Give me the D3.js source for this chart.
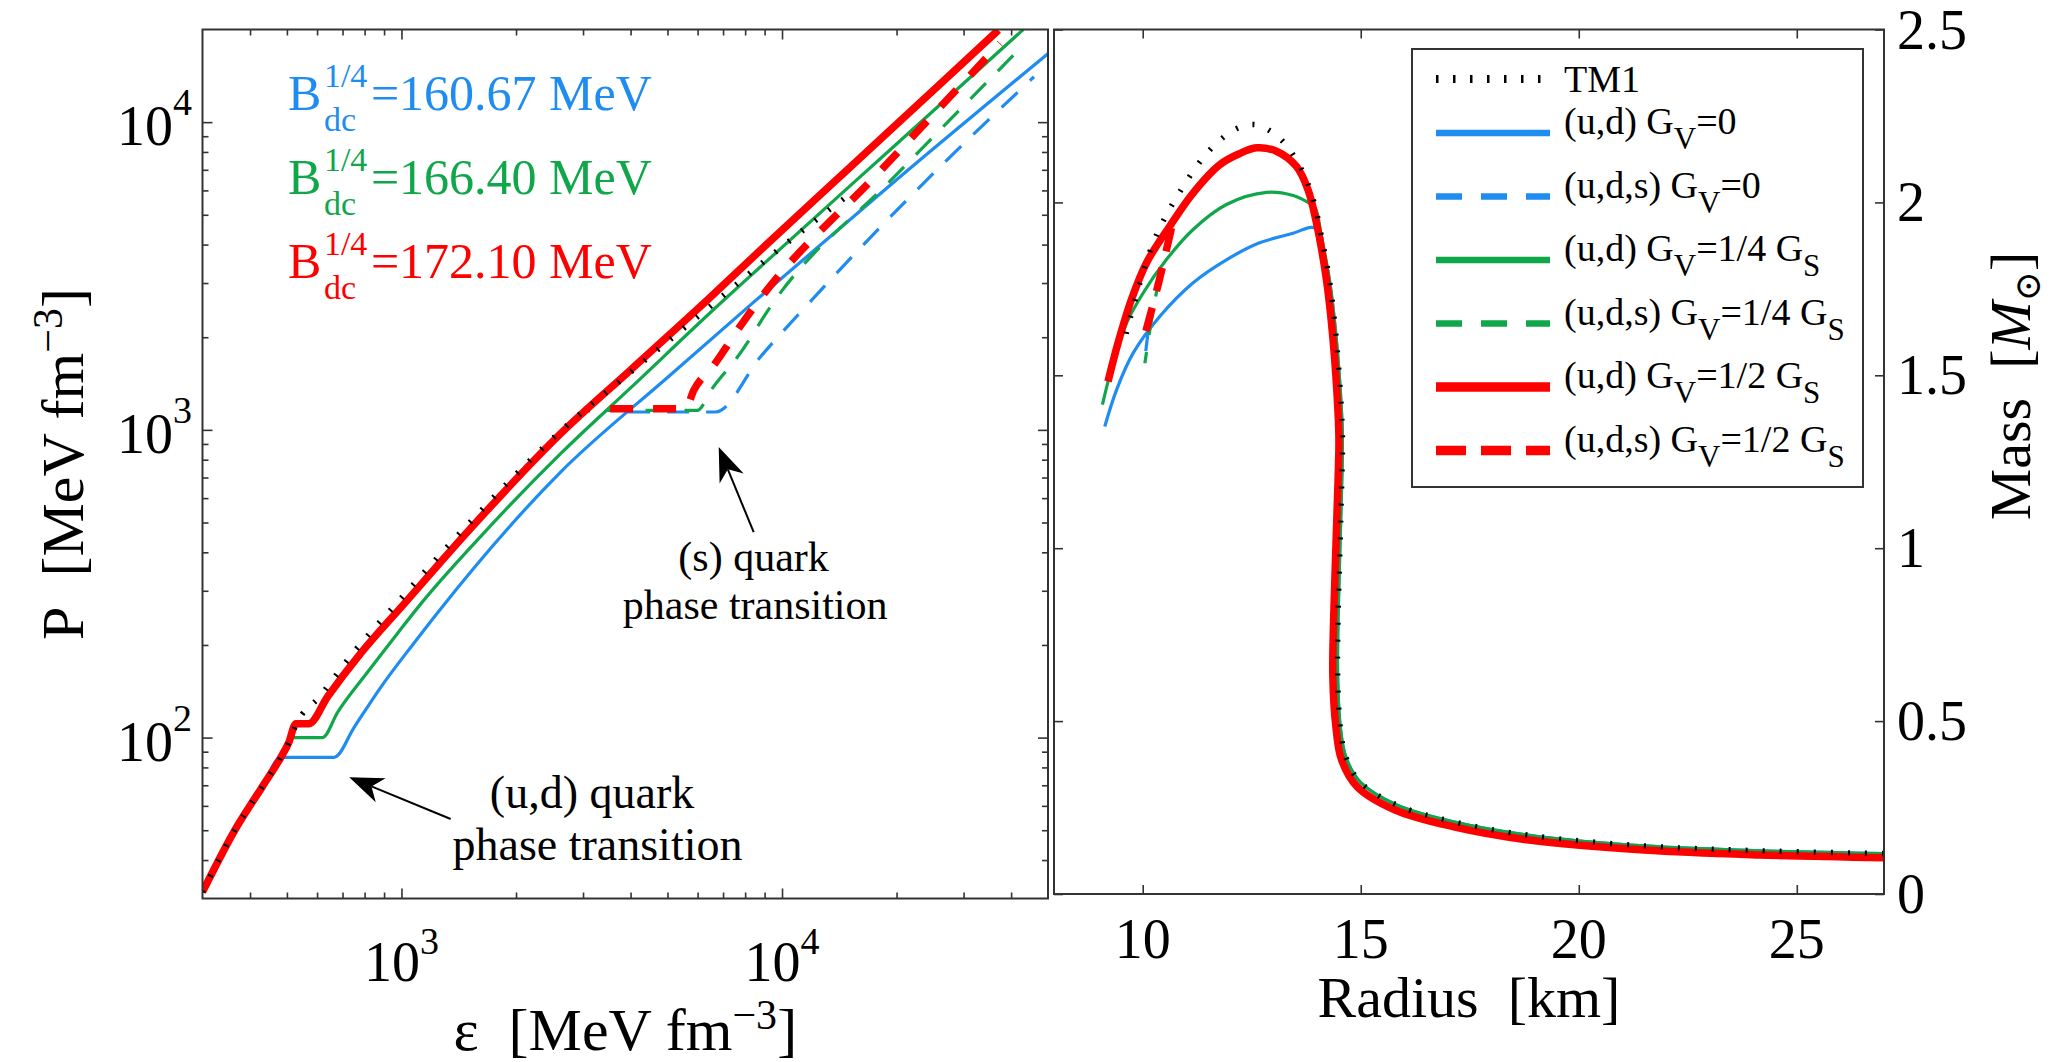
<!DOCTYPE html>
<html><head><meta charset="utf-8">
<script src="https://cdn.jsdelivr.net/npm/d3@7"></script>
<style>
body{margin:0;background:#fff}
svg{display:block}
svg text{font-family:"Liberation Serif","DejaVu Serif","Noto Serif","Times New Roman",serif;fill:#000}
</style>
</head><body>
<svg id="c" width="2060" height="1062" font-family="'Liberation Serif','DejaVu Serif','Noto Serif','Times New Roman',serif"></svg>
<script>
// ---------------- DATA ----------------
// Left panel: EOS, P vs energy density  [eps, P]
const eosTM1 = [[300,31.5],[364,49.8],[430,69],[482,86.3],[505,96],[528,110],[610,136],[745,188],[968,272],[1500,495],[2619,990],[4000,1540],[6614,2573],[9041,3556],[12000,4700],[14950,5788]];
const eosBlueUD = [[300,31.5],[364,49.8],[430,69],[482,86.3],[666,86.3],[751,108],[882,145.7],[1079,203],[1255,258],[2619,729],[5000,1480],[8425,2600],[20000,6500],[50000,16700]];
const eosBlueUDS = [[3941,1143],[6683,1143],[8770,1725],[11514,2508],[22290,5916],[45950,14040]];
const eosGreenUD = [[300,31.5],[364,49.8],[430,69],[482,86.3],[505,96],[517,100],[620,100],[680,121],[814,163],[976,218],[1124,272],[1600,445],[2619,837],[4000,1369],[7025,2637],[8771,3384],[20000,8494],[43050,20000]];
const eosGreenUDS = [[3459,1157],[5983,1157],[6550,1361],[7691,1746],[9500,2600],[19630,6600],[43510,18030]];
const eosRedUD = [[300,31.5],[364,49.8],[430,69],[482,86.3],[505,96],[528,111],[571,111],[640,136],[782,188],[1016,272],[1500,470],[2619,972],[4000,1566],[6355,2637],[8771,3834],[15000,7085],[25000,12700],[37030,19910]];
const eosRedUDS = [[3093,1172],[5577,1172],[5861,1344],[6614,1621],[7852,2215],[8771,2670],[18120,6940],[37410,18030]];

// Right panel: mass-radius  [R km, M]
const mrHadronTail = [[14.28,1.777],[14.44,1.603],[14.56,1.391],[14.58,1.31],[14.54,1.08],[14.48,0.8],[14.47,0.63],[14.53,0.484],[14.66,0.395],[15.0,0.322],[15.85,0.256],[17.15,0.208],[18.9,0.169],[21.5,0.139],[24.13,0.125],[27,0.117]];
const mrTM1Top = [[9.62,1.62],[9.66,1.641],[10.24,1.883],[10.81,2.022],[11.54,2.152],[12.15,2.213],[12.57,2.225],[12.93,2.206],[13.23,2.174],[13.49,2.129],[13.75,2.066],[13.95,1.99],[14.1,1.9]];
const mrBlueQuark = [[9.13,1.352],[9.40,1.458],[9.78,1.564],[10.39,1.670],[11.15,1.767],[11.92,1.834],[12.68,1.883],[13.45,1.911],[13.87,1.928],[14.05,1.92],[14.15,1.86]];
const mrGreenQuark = [[9.076,1.415],[9.32,1.536],[9.63,1.651],[10.01,1.738],[10.54,1.834],[11.15,1.921],[11.92,1.994],[12.84,2.029],[13.45,2.02],[13.75,2.003],[13.95,1.985],[14.1,1.9]];
const mrRedUD = [[9.204,1.482],[9.433,1.593],[9.741,1.719],[10.085,1.825],[10.62,1.931],[11.154,2.027],[11.766,2.109],[12.2,2.14],[12.608,2.158],[13.066,2.148],[13.525,2.104],[13.79,2.037],[13.984,1.941],[14.213,1.777],[14.365,1.603],[14.48,1.391],[14.5,1.31],[14.45,1.08],[14.38,0.8],[14.36,0.63],[14.43,0.484],[14.56,0.388],[14.92,0.31],[15.79,0.243],[17.11,0.195],[18.86,0.156],[21.5,0.127],[24.13,0.113],[27,0.105]];
const mrBlueUDS = [[10.12,1.622],[10.07,1.57]];
const mrGreenUDS = [[10.39,1.79],[10.2,1.66],[10.05,1.535]];
const mrRedUDS = [[10.66,1.926],[10.35,1.76],[10.01,1.598]];

// ticks / labels
const xTicksLeftMajor = [1000,10000];
const xTicksLeftMinor = [400,500,600,700,800,900,2000,3000,4000,5000,6000,7000,8000,9000,20000,30000,40000];
const yTicksLeftMajor = [100,1000,10000];
const yTicksLeftMinor = [40,50,60,70,80,90,200,300,400,500,600,700,800,900,2000,3000,4000,5000,6000,7000,8000,9000];
const xTicksRight = [10,15,20,25];
const yTicksRight = [0,0.5,1,1.5,2,2.5];
const yTickRightLabels = ["0","0.5","1","1.5","2","2.5"];
const bagValues = ["160.67","166.40","172.10"];
const legendLabels = [
  [["TM1",""]],
  [["(u,d) G",""],["V","sub"],["=0",""]],
  [["(u,d,s) G",""],["V","sub"],["=0",""]],
  [["(u,d) G",""],["V","sub"],["=1/4 G",""],["S","sub"]],
  [["(u,d,s) G",""],["V","sub"],["=1/4 G",""],["S","sub"]],
  [["(u,d) G",""],["V","sub"],["=1/2 G",""],["S","sub"]],
  [["(u,d,s) G",""],["V","sub"],["=1/2 G",""],["S","sub"]]
];

// ---------------- LAYOUT / STYLE ----------------
const FONT="'Liberation Serif','DejaVu Serif','Noto Serif','Times New Roman',serif";
const BLUE="#1E8CF0", GREEN="#10A64A", RED="#FF0000", AX="#333";
const svg=d3.select("#c");
svg.append("rect").attr("width",2060).attr("height",1062).attr("fill","#fff");
const L={x0:202.5,x1:1048,y0:29.5,y1:898.5};
const R={x0:1054,x1:1884,y0:29.5,y1:894};
const xL=d3.scaleLog().domain([300,50000]).range([L.x0,L.x1]);
const yL=d3.scaleLog().domain([30,20000]).range([L.y1,L.y0]);
const xR=d3.scaleLinear().domain([8,27]).range([1055.5,R.x1]);
const yR=d3.scaleLinear().domain([0,2.5]).range([R.y1,R.y0]);
function T(sel){return sel.append("text").attr("font-family",FONT).style("font-family",FONT);}

const defs=svg.append("defs");
defs.append("clipPath").attr("id","clipL").append("rect").attr("x",L.x0).attr("y",L.y0).attr("width",L.x1-L.x0).attr("height",L.y1-L.y0);
defs.append("clipPath").attr("id","clipR").append("rect").attr("x",R.x0).attr("y",R.y0).attr("width",R.x1-R.x0).attr("height",R.y1-R.y0);

const styleBlue={color:BLUE,width:3.2,dash:null}, styleBlueD={color:BLUE,width:3.2,dash:"22 17"};
const styleGreen={color:GREEN,width:3.2,dash:null}, styleGreenD={color:GREEN,width:3.2,dash:"22 17"};
const styleRed={color:RED,width:7.5,dash:null}, styleRedD={color:RED,width:7.5,dash:"23 20",offset:21};
const styleTM1={color:"#000",width:5.5,dash:"2 15"};

// ---------------- LEFT PANEL ----------------
const gL=svg.append("g").attr("clip-path","url(#clipL)");
const lineL=d3.line().x(d=>xL(d[0])).y(d=>yL(d[1])).curve(d3.curveMonotoneX);
const eosSeries=[[eosBlueUD,styleBlue],[eosBlueUDS,styleBlueD],[eosGreenUD,styleGreen],[eosGreenUDS,styleGreenD],[eosRedUD,styleRed],[eosRedUDS,styleRedD],[eosTM1,styleTM1]];
eosSeries.forEach(([d,s])=>{
  gL.append("path").attr("d",lineL(d)).attr("fill","none").attr("stroke",s.color)
    .attr("stroke-width",s.width).attr("stroke-dasharray",s.dash).attr("stroke-dashoffset",s.offset||0).attr("stroke-linejoin","round");
});

function tickAxis(axis,tx,ty,len){
  const g=svg.append("g").attr("transform",`translate(${tx},${ty})`).call(axis.tickSize(len).tickSizeOuter(0).tickFormat(""));
  g.select(".domain").remove();
  g.selectAll(".tick line").attr("stroke",AX).attr("stroke-width",1.6);
  g.selectAll(".tick text").remove();
  return g;
}
tickAxis(d3.axisBottom(xL).tickValues(xTicksLeftMinor),0,L.y1,-6);
tickAxis(d3.axisBottom(xL).tickValues(xTicksLeftMajor),0,L.y1,-10);
tickAxis(d3.axisTop(xL).tickValues(xTicksLeftMinor),0,L.y0,-6);
tickAxis(d3.axisTop(xL).tickValues(xTicksLeftMajor),0,L.y0,-10);
tickAxis(d3.axisLeft(yL).tickValues(yTicksLeftMinor),L.x0,0,-6);
tickAxis(d3.axisLeft(yL).tickValues(yTicksLeftMajor),L.x0,0,-10);
tickAxis(d3.axisRight(yL).tickValues(yTicksLeftMinor),L.x1,0,-6);
tickAxis(d3.axisRight(yL).tickValues(yTicksLeftMajor),L.x1,0,-10);
svg.append("rect").attr("x",L.x0).attr("y",L.y0).attr("width",L.x1-L.x0).attr("height",L.y1-L.y0)
  .attr("fill","none").attr("stroke",AX).attr("stroke-width",2);

// tick labels with exponent
xTicksLeftMajor.forEach(v=>{
  const t=T(svg).attr("x",xL(v)).attr("y",981).attr("text-anchor","middle").attr("font-size",56);
  t.append("tspan").text("10");
  t.append("tspan").attr("font-size",38).attr("dy",-27).text(Math.round(Math.log10(v)));
});
yTicksLeftMajor.forEach(v=>{
  const t=T(svg).attr("x",192).attr("y",yL(v)+23).attr("text-anchor","end").attr("font-size",56);
  t.append("tspan").text("10");
  t.append("tspan").attr("font-size",38).attr("dy",-30).text(Math.round(Math.log10(v)));
});
// axis titles
{
  const t=T(svg).attr("x",(L.x0+L.x1)/2).attr("y",1050).attr("text-anchor","middle").attr("font-size",60);
  t.append("tspan").text("\u03B5\u00A0\u00A0[MeV fm");
  t.append("tspan").attr("font-size",42).attr("dy",-21).text("\u22123");
  t.append("tspan").attr("dy",21).text("]");
}
{
  const t=T(svg).attr("transform",`translate(83,${(L.y0+L.y1)/2}) rotate(-90)`).attr("text-anchor","middle").attr("font-size",60);
  t.append("tspan").text("P\u00A0\u00A0[MeV fm");
  t.append("tspan").attr("font-size",42).attr("dy",-21).text("\u22123");
  t.append("tspan").attr("dy",21).text("]");
}
// bag constant annotations
const bagColors=[BLUE,GREEN,RED];
const bagAnchorEps=503, bagAnchorP=[10950,5841,3115];
bagValues.forEach((v,i)=>{
  const x=xL(bagAnchorEps), y=yL(bagAnchorP[i]);
  const t=T(svg).attr("font-size",50).style("fill",bagColors[i]);
  t.append("tspan").attr("x",x).attr("y",y).text("B");
  t.append("tspan").attr("x",x+36).attr("y",y-23).attr("font-size",34).text("1/4");
  t.append("tspan").attr("x",x+36).attr("y",y+21).attr("font-size",34).text("dc");
  t.append("tspan").attr("x",x+83).attr("y",y).text("="+v+" MeV");
});
// arrows + text
const arrows=[{from:[8425,465],to:[6818,879]},{from:[1347,54.4],to:[729,74.3]}];
arrows.forEach(a=>{
  const x1=xL(a.from[0]),y1=yL(a.from[1]),x2=xL(a.to[0]),y2=yL(a.to[1]);
  const dx=x2-x1,dy=y2-y1,len=Math.hypot(dx,dy),ux=dx/len,uy=dy/len,px=-uy,py=ux;
  const hl=34,hw=13,notch=24;
  svg.append("line").attr("x1",x1).attr("y1",y1).attr("x2",x2-ux*notch).attr("y2",y2-uy*notch).attr("stroke","#000").attr("stroke-width",2);
  const pts=[[x2,y2],[x2-ux*hl+px*hw,y2-uy*hl+py*hw],[x2-ux*notch,y2-uy*notch],[x2-ux*hl-px*hw,y2-uy*hl-py*hw]];
  svg.append("polygon").attr("points",pts.map(p=>p.join(",")).join(" ")).attr("fill","#000");
});
const annoTexts=[{t:"(s) quark",at:[8420,349],size:42},{t:"phase transition",at:[8500,243],size:42},
                 {t:"(u,d) quark",at:[3168,59.2],size:46},{t:"phase transition",at:[3274,40.1],size:46}];
annoTexts.forEach(a=>{
  T(svg).attr("x",xL(a.at[0])).attr("y",yL(a.at[1])).attr("text-anchor","middle").attr("font-size",a.size).text(a.t);
});

// ---------------- RIGHT PANEL ----------------
const gR=svg.append("g").attr("clip-path","url(#clipR)");
const lineR=d3.line().x(d=>xR(d[0])).y(d=>yR(d[1])).curve(d3.curveCatmullRom.alpha(0.5));
const mrSeries=[[mrBlueQuark.concat(mrHadronTail),styleBlue],[mrBlueUDS,styleBlueD],
  [mrGreenQuark.concat(mrHadronTail),styleGreen],[mrGreenUDS,styleGreenD],
  [mrRedUD,styleRed],[mrRedUDS,{color:RED,width:7.5,dash:"24 17"}],[mrTM1Top.concat(mrHadronTail),styleTM1]];
mrSeries.forEach(([d,s])=>{
  gR.append("path").attr("d",lineR(d)).attr("fill","none").attr("stroke",s.color)
    .attr("stroke-width",s.width).attr("stroke-dasharray",s.dash).attr("stroke-linejoin","round");
});
tickAxis(d3.axisBottom(xR).tickValues(xTicksRight),0,R.y1,-9);
tickAxis(d3.axisTop(xR).tickValues(xTicksRight),0,R.y0,-9);
tickAxis(d3.axisLeft(yR).tickValues(yTicksRight),R.x0,0,-9);
tickAxis(d3.axisRight(yR).tickValues(yTicksRight),R.x1,0,-9);
svg.append("rect").attr("x",R.x0).attr("y",R.y0).attr("width",R.x1-R.x0).attr("height",R.y1-R.y0)
  .attr("fill","none").attr("stroke",AX).attr("stroke-width",2);
xTicksRight.forEach(v=>{
  T(svg).attr("x",xR(v)).attr("y",958).attr("text-anchor","middle").attr("font-size",56).text(v);
});
yTicksRight.forEach((v,i)=>{
  T(svg).attr("x",1897).attr("y",yR(v)+19).attr("font-size",56).text(yTickRightLabels[i]);
});
T(svg).attr("x",(R.x0+R.x1)/2).attr("y",1017).attr("text-anchor","middle").attr("font-size",58).text("Radius\u00A0\u00A0[km]");
{
  const t=T(svg).attr("transform","translate(2030,386) rotate(-90)").attr("text-anchor","middle").attr("font-size",58);
  t.append("tspan").text("Mass\u00A0\u00A0[");
  t.append("tspan").attr("font-style","italic").text("M");
  t.append("tspan").attr("font-size",36).attr("dy",10).text("\u2299");
  t.append("tspan").attr("dy",-10).text("]");
}

// ---------------- LEGEND ----------------
const lg=svg.append("g");
lg.append("rect").attr("x",1412).attr("y",49).attr("width",451).attr("height",438).attr("fill","#fff").attr("stroke",AX).attr("stroke-width",2);
const legStyles=[{color:"#000",width:8,dash:"2.5 14.5"},{color:BLUE,width:6.5,dash:null},{color:BLUE,width:6.5,dash:"26 19"},
  {color:GREEN,width:6.5,dash:null},{color:GREEN,width:6.5,dash:"26 19"},{color:RED,width:9.5,dash:null},{color:RED,width:9.5,dash:"30 15"}];
legendLabels.forEach((parts,i)=>{
  const y=i===0?79:133+(i-1)*63.5;
  const s=legStyles[i];
  lg.append("line").attr("x1",1436).attr("x2",1550).attr("y1",y).attr("y2",y).attr("stroke",s.color)
    .attr("stroke-width",s.width).attr("stroke-dasharray",s.dash);
  const t=T(lg).attr("x",1564).attr("y",i===0?y+13:y+1).attr("font-size",38);
  let sub=false;
  parts.forEach(p=>{
    const ts=t.append("tspan").text(p[0]);
    if(p[1]==="sub"){ts.attr("font-size",31).attr("dy",15);sub=true;}
    else if(sub){ts.attr("dy",-15);sub=false;}
  });
});
</script>
</body></html>
